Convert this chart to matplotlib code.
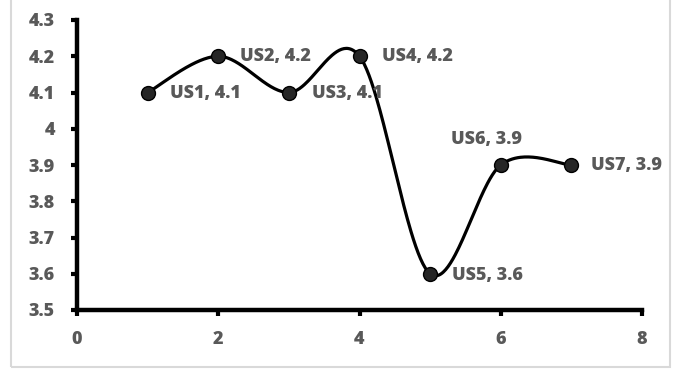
import numpy as np
import matplotlib.pyplot as plt
from matplotlib.patches import Rectangle

# story scores
names = ["US1", "US2", "US3", "US4", "US5", "US6", "US7"]
x_vals = [1, 2, 3, 4, 5, 6, 7]
y_vals = [4.1, 4.2, 4.1, 4.2, 3.6, 3.9, 3.9]

# label offsets in pixels (dx, dy), text anchored left-centre
label_offsets = [(22, -1), (22, 0), (23, -1), (22, 0), (22, -2), (-50, 26), (20, 0)]


def smooth_curve(xs, ys, n=60):
    # cardinal spline through the points, same style as a spreadsheet smoothed line
    px = np.asarray(xs, float)
    py = np.asarray(ys, float)
    px = np.concatenate([[px[0]], px, [px[-1]]])
    py = np.concatenate([[py[0]], py, [py[-1]]])
    outx, outy = [], []
    t = np.linspace(0, 1, n)
    for i in range(1, len(px) - 2):
        p0 = np.array([px[i], py[i]])
        p3 = np.array([px[i + 1], py[i + 1]])
        c1 = p0 + (np.array([px[i + 1], py[i + 1]]) - np.array([px[i - 1], py[i - 1]])) / 6
        c2 = p3 - (np.array([px[i + 2], py[i + 2]]) - np.array([px[i], py[i]])) / 6
        b = ((1 - t) ** 3)[:, None] * p0 + (3 * (1 - t) ** 2 * t)[:, None] * c1 \
            + (3 * (1 - t) * t ** 2)[:, None] * c2 + (t ** 3)[:, None] * p3
        outx.extend(b[:, 0])
        outy.extend(b[:, 1])
    return outx, outy


plt.rcParams['font.family'] = ['Open Sans', 'DejaVu Sans']
grey = '#595959'
fsize = 13
weight = 'heavy'

W, H = 673, 369
fig = plt.figure(figsize=(W / 100, H / 100), dpi=100)
# light chart-area border (top edge runs off the image)
fig.patches.append(Rectangle((11 / W, 1 - 367 / H), 659 / W, 380 / H, transform=fig.transFigure,
                             fill=False, edgecolor='#d9d9d9', linewidth=1.5))
ax = fig.add_axes([77 / W, 1 - 310 / H, (642 - 77) / W, (310 - 20) / H])

sx, sy = smooth_curve(x_vals, y_vals)
ax.plot(sx, sy, color='black', linewidth=2.3, zorder=2, clip_on=False)
ax.plot(x_vals, y_vals, 'o', markersize=10, markerfacecolor='#262626',
        markeredgecolor='black', markeredgewidth=1, zorder=3, clip_on=False)

for name, xv, yv, (dx, dy) in zip(names, x_vals, y_vals, label_offsets):
    ax.annotate(f"{name}, {yv}", (xv, yv), xytext=(dx, dy), textcoords='offset pixels',
                ha='left', va='center', fontsize=fsize, fontweight=weight, color=grey)

ax.set_xlim(0, 8)
ax.set_ylim(3.5, 4.3)
ax.set_xticks(np.arange(0, 9, 2))
yt = np.round(np.arange(3.5, 4.31, 0.1), 1)
ax.set_yticks(yt)
ax.set_yticklabels([f"{v:g}" for v in yt])

for side in ['top', 'right']:
    ax.spines[side].set_visible(False)
for side in ['left', 'bottom']:
    ax.spines[side].set_linewidth(3.2)
    ax.spines[side].set_color('black')
    ax.spines[side].set_capstyle('projecting')

ax.tick_params(axis='both', direction='out', length=4, width=3, color='black',
               labelsize=fsize, labelcolor=grey)
ax.tick_params(axis='x', pad=11)
ax.tick_params(axis='y', pad=12)
for lbl in ax.get_xticklabels() + ax.get_yticklabels():
    lbl.set_fontweight(weight)

fig.savefig('out.png', dpi=100)
